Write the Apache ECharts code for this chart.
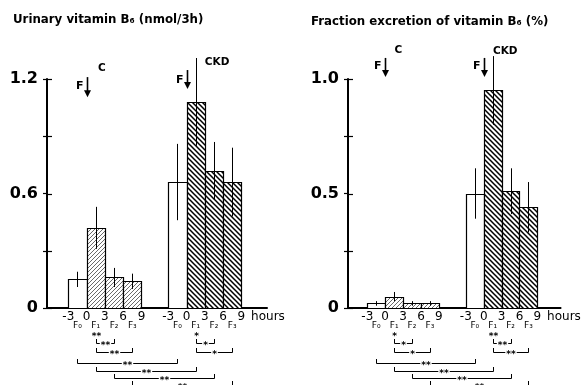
<!DOCTYPE html>
<html><head><meta charset="utf-8">
<script src="https://cdn.jsdelivr.net/npm/echarts@6/dist/echarts.min.js"></script>
<style>html,body{margin:0;padding:0;background:#fff}#c{width:583px;height:385px}</style>
</head><body><div id="c"></div>
<script>
// ---------------- data ----------------
const groups = ['C', 'CKD'];
const periods = ['F₀', 'F₁', 'F₂', 'F₃'];
const periodStart = [-3, 0, 3, 6];      // hours; each collection period lasts 3 h
const periodLength = 3;
const hourTicks = [-3, 0, 3, 6, 9];
const hourTickLabels = ['-3', '0', '3', '6', '9'];

// Urinary vitamin B6 (nmol/3h): mean and SD
const urinaryC = [0.15, 0.42, 0.16, 0.14];
const urinaryC_sd = [0.04, 0.11, 0.05, 0.04];
const urinaryCKD = [0.66, 1.08, 0.72, 0.66];
const urinaryCKD_sd = [0.20, 0.23, 0.15, 0.18];

// Fraction excretion of vitamin B6 (%): mean and SD
const fractionC = [0.02, 0.05, 0.02, 0.02];
const fractionC_sd = [0.01, 0.02, 0.01, 0.01];
const fractionCKD = [0.50, 0.95, 0.51, 0.44];
const fractionCKD_sd = [0.11, 0.15, 0.10, 0.11];

const urinaryYTicks = [0, 0.6, 1.2];
const urinaryYLabels = ['0', '0.6', '1.2'];
const urinaryYMinorTicks = [0.3, 0.9];
const fractionYTicks = [0, 0.5, 1.0];
const fractionYLabels = ['0', '0.5', '1.0'];
const fractionYMinorTicks = [0.25, 0.75];

// significance marks
const urinaryVsF0 = ['**', '*'];                       // F1 vs F0, per group
const urinaryWithinC = [[1, 2, '**'], [1, 3, '**']];
const urinaryWithinCKD = [[1, 2, '*'], [1, 3, '*']];
const urinaryBetween = ['**', '**', '**', '**'];        // C vs CKD per period
const fractionVsF0 = ['*', '**'];
const fractionWithinC = [[1, 2, '*'], [1, 3, '*']];
const fractionWithinCKD = [[1, 2, '**'], [1, 3, '**']];
const fractionBetween = ['**', '**', '**', '**'];

// ---------------- drawing ----------------
const FONT = '"DejaVu Sans", Verdana, sans-serif';

function makeHatch(size, lw, color, dir) {
  const c = document.createElement('canvas');
  c.width = c.height = size;
  const g = c.getContext('2d');
  g.fillStyle = '#fff'; g.fillRect(0, 0, size, size);
  g.strokeStyle = color; g.lineWidth = lw; g.beginPath();
  if (dir === '/') {
    g.moveTo(-1, size + 1); g.lineTo(size + 1, -1);
    g.moveTo(-1, 1); g.lineTo(1, -1);
    g.moveTo(size - 1, size + 1); g.lineTo(size + 1, size - 1);
  } else {
    g.moveTo(-1, -1); g.lineTo(size + 1, size + 1);
    g.moveTo(size - 1, -1); g.lineTo(size + 1, 1);
    g.moveTo(-1, size - 1); g.lineTo(1, size + 1);
  }
  g.stroke();
  return c;
}
const fills = [
  '#ffffff',
  { image: makeHatch(4, 0.8, '#444', '/'), repeat: 'repeat' },
  { image: makeHatch(5, 1.5, '#000', '\\'), repeat: 'repeat' }
];

const panels = [
  { title: 'Urinary vitamin B₆ (nmol/3h)', titleLeft: 13, titleTop: 14,
    left: 47, width: 220, xMin: -6.5, xMax: 29.6, shift: 16.4,
    yMax: 1.2, yStep: 0.3, yTicks: urinaryYTicks, yLabels: urinaryYLabels, yMinor: urinaryYMinorTicks,
    means: [urinaryC, urinaryCKD], sds: [urinaryC_sd, urinaryCKD_sd],
    vsF0: urinaryVsF0, within: [urinaryWithinC, urinaryWithinCKD], between: urinaryBetween,
    arrowTop: [1.21, 1.247], arrowBottom: [1.105, 1.148], fY: [1.163, 1.195],
    grpLabel: [[2.5, 1.258, 'center'], [3.0, 1.289, 'left']] },
  { title: 'Fraction excretion of vitamin B₆ (%)', titleLeft: 311, titleTop: 16,
    left: 348, width: 220, xMin: -6.24, xMax: 29.42, shift: 16.53,
    yMax: 1.0, yStep: 0.25, yTicks: fractionYTicks, yLabels: fractionYLabels, yMinor: fractionYMinorTicks,
    means: [fractionC, fractionCKD], sds: [fractionC_sd, fractionCKD_sd],
    vsF0: fractionVsF0, within: [fractionWithinC, fractionWithinCKD], between: fractionBetween,
    arrowTop: [1.092, 1.092], arrowBottom: [1.009, 1.009], fY: [1.057, 1.057],
    grpLabel: [[2.2, 1.127, 'center'], [1.55, 1.122, 'left']] }
];

const GRID_TOP = 79, GRID_H = 229;
const ROW_VS = 26, ROW_WITHIN = [35, 44], ROW_BETWEEN = [55, 62.5, 70, 77];

const option = { animation: false, backgroundColor: '#fff',
  title: [], grid: [], xAxis: [], yAxis: [], series: [] };

panels.forEach((p, pi) => {
  option.title.push({ text: p.title, left: p.titleLeft, top: p.titleTop, padding: 0,
    textStyle: { fontFamily: FONT, fontSize: 11.8, fontWeight: 'bold', color: '#000' } });
  option.grid.push({ left: p.left, top: GRID_TOP, width: p.width, height: GRID_H });

  const tickVals = [], tickTxt = [], centerVals = [], centerTxt = [];
  groups.forEach((g, gi) => {
    hourTicks.forEach((h, k) => { tickVals.push(h + gi * p.shift); tickTxt.push(hourTickLabels[k]); });
    periods.forEach((f, k) => { centerVals.push(periodStart[k] + periodLength / 2 + gi * p.shift); centerTxt.push(f); });
  });
  const lookup = (vals, txt) => v => { for (let i = 0; i < vals.length; i++) if (Math.abs(vals[i] - v) < 1e-6) return txt[i]; return ''; };

  option.xAxis.push({ type: 'value', gridIndex: pi, min: p.xMin, max: p.xMax, position: 'bottom',
    axisLine: { show: true, onZero: false, lineStyle: { color: '#000', width: 2 } },
    axisTick: { show: false }, splitLine: { show: false },
    axisLabel: { customValues: tickVals, formatter: lookup(tickVals, tickTxt), margin: 3,
      fontFamily: FONT, fontSize: 12, color: '#000' },
    name: 'hours', nameLocation: 'end', nameGap: -17,
    nameTextStyle: { fontFamily: FONT, fontSize: 12, color: '#000', align: 'left', verticalAlign: 'top', padding: [3, 0, 0, 0] } });
  option.xAxis.push({ type: 'value', gridIndex: pi, min: p.xMin, max: p.xMax, position: 'bottom',
    axisLine: { show: false, onZero: false }, axisTick: { show: false }, splitLine: { show: false },
    axisLabel: { customValues: centerVals, formatter: lookup(centerVals, centerTxt), margin: 13,
      fontFamily: FONT, fontSize: 9, color: '#000' } });

  const yFmt = v => { for (let i = 0; i < p.yTicks.length; i++) if (Math.abs(p.yTicks[i] - v) < 1e-6) return p.yLabels[i]; return ''; };
  option.yAxis.push({ type: 'value', gridIndex: pi, min: 0, max: p.yMax, interval: p.yStep, position: 'left',
    axisLine: { show: true, onZero: false, lineStyle: { color: '#000', width: 2 } },
    axisTick: { show: true, length: 4, lineStyle: { color: '#000', width: 1.2 } },
    splitLine: { show: false },
    axisLabel: { formatter: yFmt, margin: 9, fontFamily: FONT, fontSize: 16, fontWeight: 'bold', color: '#000' } });

  // inner half of the y ticks (ticks cross the axis line)
  option.series.push({ type: 'custom', xAxisIndex: 2 * pi, yAxisIndex: pi, clip: false, z: 6,
    data: p.yTicks.concat(p.yMinor).map(v => [p.xMin, v]),
    renderItem: (params, api) => {
      const c = api.coord([api.value(0), api.value(1)]);
      const y = Math.round(c[1]) + 0.5;
      return { type: 'line', shape: { x1: c[0], y1: y, x2: c[0] + 5, y2: y }, style: { stroke: '#000', lineWidth: 1.2 } };
    } });

  // bars + error bars
  const barData = [];
  groups.forEach((g, gi) => periods.forEach((f, k) => {
    const x0 = periodStart[k] + gi * p.shift;
    barData.push([x0, x0 + periodLength, p.means[gi][k], p.sds[gi][k], k === 0 ? 0 : (gi === 0 ? 1 : 2)]);
  }));
  option.series.push({ type: 'custom', xAxisIndex: 2 * pi, yAxisIndex: pi, clip: false, z: 3,
    data: barData,
    renderItem: (params, api) => {
      const x0 = api.value(0), x1 = api.value(1), m = api.value(2), sd = api.value(3), fi = api.value(4);
      const a = api.coord([x0, m]), b = api.coord([x1, 0]);
      const xc = Math.round((a[0] + b[0]) / 2) + 0.5;
      const et = api.coord([(x0 + x1) / 2, m + sd])[1], eb = api.coord([(x0 + x1) / 2, Math.max(m - sd, 0)])[1];
      return { type: 'group', children: [
        { type: 'rect', shape: { x: Math.round(a[0]) + 0.5, y: Math.round(a[1]) + 0.5, width: Math.round(b[0]) - Math.round(a[0]), height: Math.round(b[1]) - Math.round(a[1]) },
          style: { fill: fills[fi], stroke: '#000', lineWidth: 1.2 } },
        { type: 'line', shape: { x1: xc, y1: et, x2: xc, y2: eb }, style: { stroke: '#000', lineWidth: 1 } }
      ] };
    } });

  // significance brackets
  const brData = [], brText = [];
  const ctr = (gi, k) => periodStart[k] + periodLength / 2 + gi * p.shift;
  groups.forEach((g, gi) => {
    brData.push([ctr(gi, 1), ctr(gi, 1), ROW_VS, 0]); brText.push(p.vsF0[gi]);
    p.within[gi].forEach((w, wi) => { brData.push([ctr(gi, w[0]), ctr(gi, w[1]), ROW_WITHIN[wi], 1]); brText.push(w[2]); });
  });
  p.between.forEach((s, k) => { brData.push([ctr(0, k), ctr(1, k), ROW_BETWEEN[k], 1]); brText.push(s); });
  option.series.push({ type: 'custom', xAxisIndex: 2 * pi, yAxisIndex: pi, clip: false, z: 4,
    data: brData,
    renderItem: (params, api) => {
      const y0 = api.coord([0, 0])[1];
      const xa = Math.round(api.coord([api.value(0), 0])[0]) + 0.5;
      const xb = Math.round(api.coord([api.value(1), 0])[0]) + 0.5;
      const y = Math.round(y0 + api.value(2)) + 0.5;
      const hasLine = api.value(3) === 1;
      const ch = [];
      if (hasLine) ch.push({ type: 'polyline', shape: { points: [[xa, y - 4.5], [xa, y], [xb, y], [xb, y - 4.5]] },
        style: { stroke: '#000', fill: null, lineWidth: 1 } });
      ch.push({ type: 'text', x: (xa + xb) / 2, y: y + 2, style: { text: brText[params.dataIndex],
        font: 'bold 9px ' + FONT, fill: '#000', align: 'center', verticalAlign: 'middle',
        backgroundColor: hasLine ? '#fff' : null, padding: [0, 1, 0, 1] } });
      return { type: 'group', children: ch };
    } });

  // feeding arrows and group labels
  option.series.push({ type: 'custom', xAxisIndex: 2 * pi, yAxisIndex: pi, clip: false, z: 5,
    data: groups.map((g, gi) => [gi * p.shift, gi]),
    renderItem: (params, api) => {
      const gi = api.value(1), x0 = api.value(0);
      const top = api.coord([x0, p.arrowTop[gi]]), bot = api.coord([x0, p.arrowBottom[gi]]);
      const x = Math.round(top[0]) + 0.5;
      const fy = api.coord([x0, p.fY[gi]])[1];
      const gl = p.grpLabel[gi];
      const lp = api.coord([x0 + gl[0], gl[1]]);
      return { type: 'group', children: [
        { type: 'line', shape: { x1: x, y1: top[1], x2: x, y2: bot[1] - 5 }, style: { stroke: '#000', lineWidth: 1.6 } },
        { type: 'polygon', shape: { points: [[x - 3.5, bot[1] - 7], [x + 3.5, bot[1] - 7], [x, bot[1]]] }, style: { fill: '#000' } },
        { type: 'text', x: x - 4, y: fy, style: { text: 'F', font: 'bold 11px ' + FONT, fill: '#000', align: 'right', verticalAlign: 'middle' } },
        { type: 'text', x: lp[0], y: lp[1], style: { text: groups[gi], font: 'bold 10.5px ' + FONT, fill: '#000', align: gl[2], verticalAlign: 'middle' } }
      ] };
    } });
});

const chart = echarts.init(document.getElementById('c'), null, { renderer: 'canvas', width: 583, height: 385 });
chart.setOption(option);
</script>
</body></html>
